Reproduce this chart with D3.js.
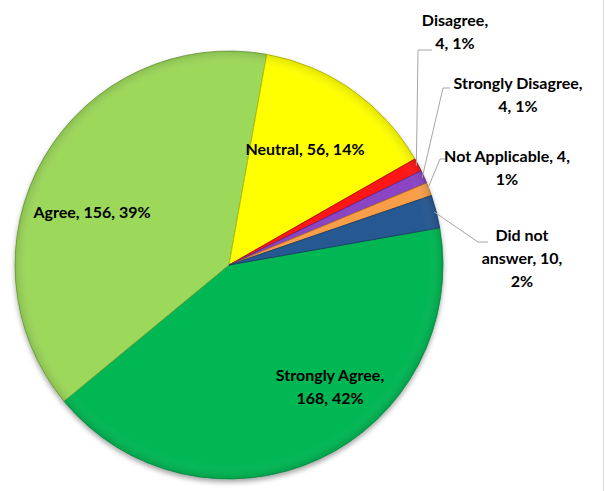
<!DOCTYPE html>
<html>
<head>
<meta charset="utf-8">
<script src="https://cdn.jsdelivr.net/npm/d3@7"></script>
<style>
  html, body { margin: 0; padding: 0; background: #fff; }
  svg { display: block; }
  text { font-family: Lato, "Open Sans", sans-serif; font-weight: bold; font-size: 16px; fill: #000; }
</style>
</head>
<body>
<svg id="chart" width="605" height="491"></svg>
<script>
// ---- data ----
const categories = ["Strongly Agree", "Agree", "Neutral", "Disagree", "Strongly Disagree", "Not Applicable", "Did not answer"];
const counts     = [168, 156, 56, 4, 4, 4, 10];
const percents   = ["42%", "39%", "14%", "1%", "1%", "1%", "2%"];
const labelLines = [
  ["Strongly Agree,", "168, 42%"],
  ["Agree, 156, 39%"],
  ["Neutral, 56, 14%"],
  ["Disagree,", "4, 1%"],
  ["Strongly Disagree,", "4, 1%"],
  ["Not Applicable, 4,", "1%"],
  ["Did not", "answer, 10,", "2%"]
];

// ---- styles / layout ----
const colors = ["#03B753", "#9CD85A", "#FFFF00", "#FF1414", "#8B45C4", "#F89E48", "#285892"];
const strokes = ["#0A8A40", "#6E9E3A", "#B8B800", "#B00000", "#5A2A85", "#B06A28", "#173A66"];
const cx = 229, cy = 265, R = 214;
const startDeg = 80;
// label anchor (center x, first baseline y)
const labelAnchor = [
  [330, 381], [92, 218], [305, 155], [455, 26], [518, 89], [507, 162], [522, 241]
];
// leader line elbow and end points (for outside labels)
const leaders = {
  3: [[418, 50], [432, 50]],
  4: [[443, 88], [450, 88]],
  5: [[440, 159], [447, 159]],
  6: [[478, 242], [488, 242]]
};

const svg = d3.select("#chart");
const defs = svg.append("defs");
const f = defs.append("filter").attr("id", "shadow").attr("x", "-20%").attr("y", "-20%").attr("width", "140%").attr("height", "140%");
f.append("feDropShadow").attr("dx", 0).attr("dy", 3).attr("stdDeviation", 2.5).attr("flood-color", "#000").attr("flood-opacity", 0.35);

// right border line
svg.append("line").attr("x1", 603.5).attr("x2", 603.5).attr("y1", 0).attr("y2", 491)
  .attr("stroke", "#d9d9d9").attr("stroke-width", 1);

const data = categories.map((c, i) => ({ name: c, value: counts[i], i }));
const start = startDeg * Math.PI / 180;
const pie = d3.pie().sort(null).value(d => d.value).startAngle(start).endAngle(start + 2 * Math.PI);
const arcs = pie(data);
const arc = d3.arc().innerRadius(0).outerRadius(R);
const edgeArc = d3.arc().innerRadius(R - 2).outerRadius(R - 2);

const g = svg.append("g").attr("transform", `translate(${cx},${cy})`);
g.append("g").attr("filter", "url(#shadow)")
  .selectAll("path").data(arcs).join("path")
  .attr("d", arc)
  .attr("fill", d => colors[d.data.i])
  .attr("stroke", d => strokes[d.data.i])
  .attr("stroke-width", 0.8)
  .attr("stroke-linejoin", "round");

// subtle bevel highlight
const bevel = defs.append("radialGradient").attr("id", "bevel").attr("gradientUnits", "userSpaceOnUse")
  .attr("cx", 0).attr("cy", 0).attr("r", R);
bevel.append("stop").attr("offset", "0.93").attr("stop-color", "#fff").attr("stop-opacity", 0);
bevel.append("stop").attr("offset", "1").attr("stop-color", "#000").attr("stop-opacity", 0.12);
g.append("circle").attr("r", R).attr("fill", "url(#bevel)").attr("pointer-events", "none");

// leader lines
arcs.forEach(d => {
  const L = leaders[d.data.i];
  if (!L) return;
  const p0 = edgeArc.centroid(d);
  const pts = [[cx + p0[0], cy + p0[1]], ...L];
  svg.append("path")
    .attr("d", d3.line()(pts))
    .attr("fill", "none").attr("stroke", "#a6a6a6").attr("stroke-width", 1);
});

// labels
arcs.forEach(d => {
  const i = d.data.i;
  const [x, y] = labelAnchor[i];
  const t = svg.append("text").attr("text-anchor", "middle").attr("x", x).attr("y", y);
  labelLines[i].forEach((ln, k) => {
    t.append("tspan").attr("x", x).attr("dy", k === 0 ? 0 : 23).text(ln);
  });
});
</script>
</body>
</html>
